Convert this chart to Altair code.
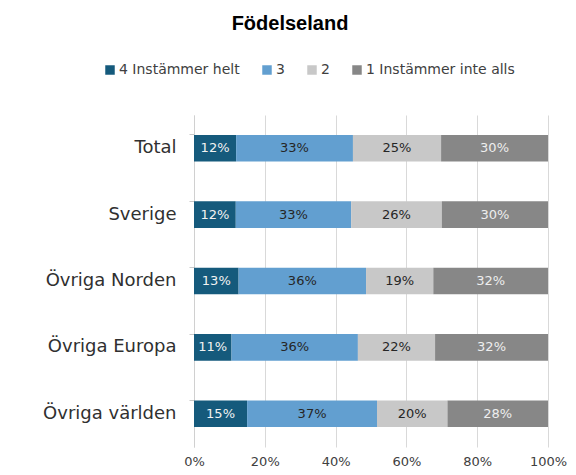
import altair as alt
import pandas as pd

categories = ["Total", "Sverige", "Övriga Norden", "Övriga Europa", "Övriga världen"]
series_names = ["4 Instämmer helt", "3", "2", "1 Instämmer inte alls"]
s4 = [11.9, 11.8, 12.6, 10.6, 15.0]
s3 = [33.0, 32.6, 36.0, 35.7, 36.7]
s2 = [24.9, 25.6, 19.0, 21.8, 19.9]
s1 = [30.2, 30.0, 32.4, 31.9, 28.4]
colors = ["#155a7c", "#629fd0", "#c8c8c8", "#878787"]
text_colors = ["#f2f2f2", "#262626", "#262626", "#eeeeee"]
x_ticks = [0, 20, 40, 60, 80, 100]

rows = []
for si, (name, vals) in enumerate(zip(series_names, [s4, s3, s2, s1])):
    for c, v in zip(categories, vals):
        rows.append({"cat": c, "series": name, "order": si, "value": v, "tcolor": text_colors[si]})
df = pd.DataFrame(rows)

FONT = "DejaVu Sans"

base = alt.Chart(df).transform_window(
    cum="sum(value)", groupby=["cat"], sort=[alt.SortField("order")], frame=[None, 0]
).transform_calculate(
    mid="datum.cum - datum.value / 2",
    label="format(datum.value, '.0f') + '%'",
)

yenc = alt.Y(
    "cat:N",
    sort=categories,
    title=None,
    scale=alt.Scale(paddingInner=0.6, paddingOuter=0.3),
    axis=alt.Axis(
        bandPosition=0,
        tickSize=5,
        tickColor="#c8c8c8",
        domainColor="#d0d0d0",
        labelFontSize=18,
        labelFont=FONT,
        labelColor="#303030",
        labelPadding=13,
        grid=False,
    ),
)

bars = base.mark_bar().encode(
    x=alt.X(
        "value:Q",
        stack="zero",
        title=None,
        scale=alt.Scale(domain=[0, 100], nice=False),
        axis=alt.Axis(
            values=x_ticks,
            labelExpr="datum.value + '%'",
            labelFlush=False,
            domain=False,
            ticks=False,
            grid=True,
            gridColor="#d9d9d9",
            labelFont=FONT,
            labelFontSize=13,
            labelColor="#404040",
            labelPadding=8,
        ),
    ),
    y=yenc,
    color=alt.Color(
        "series:N",
        sort=series_names,
        scale=alt.Scale(domain=series_names, range=colors),
        legend=alt.Legend(
            title=None,
            orient="none",
            direction="horizontal",
            legendX=-91,
            legendY=-52,
            symbolType="square",
            symbolSize=90,
            symbolStrokeWidth=0,
            labelFont=FONT,
            labelFontSize=14,
            labelColor="#404040",
            labelOffset=2,
            columnPadding=20,
        ),
    ),
    order=alt.Order("order:Q"),
)

texts = base.mark_text(font=FONT, fontSize=13, baseline="middle").encode(
    x=alt.X("mid:Q"),
    y=alt.Y("cat:N", sort=categories),
    text="label:N",
    color=alt.Color("tcolor:N", scale=None),
)

chart = (
    alt.layer(bars, texts)
    .properties(
        width=354,
        height=332,
        autosize=alt.AutoSizeParams(type="none"),
        padding={"left": 186, "top": 107, "right": 20, "bottom": 20},
        title=alt.TitleParams(
            "Födelseland",
            font="Liberation Sans",
            fontSize=20,
            fontWeight="bold",
            color="#000000",
            anchor="middle",
            dx=-81,
            offset=29,
        ),
    )
    .configure_view(stroke=None)
)

chart.save("out.html", embed_options={"renderer": "svg", "actions": False})
